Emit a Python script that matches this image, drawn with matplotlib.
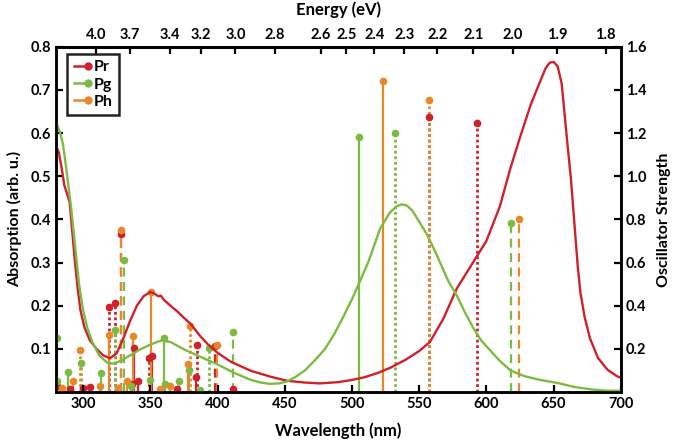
import matplotlib
matplotlib.use('Agg')
import matplotlib.pyplot as plt
from matplotlib.lines import Line2D
from matplotlib.legend_handler import HandlerBase

plt.rcParams['font.family'] = ['Lato', 'DejaVu Sans']
plt.rcParams['font.weight'] = 'bold'

RED = '#d0212a'
GREEN = '#7cbb43'
ORANGE = '#e9882b'

# absorption spectra (left axis)
red_wl = [280, 282, 284, 286, 288, 290, 292, 294, 296, 298, 301, 305, 310, 315, 320,
          325, 330, 335, 340, 345, 350, 353, 356, 358, 360, 365, 370, 375, 380, 387,
          393, 400, 410, 425, 440, 452, 465, 476, 490, 500, 509, 520, 529, 540, 550,
          558, 568, 578, 590, 600, 610, 618, 625, 633, 640, 644, 647, 650, 653, 656,
          658, 660, 663, 665, 668, 670, 673, 677, 683, 690, 697, 700]
red_abs = [0.57, 0.555, 0.52, 0.48, 0.46, 0.44, 0.37, 0.30, 0.24, 0.19, 0.15, 0.12, 0.10,
           0.085, 0.078, 0.09, 0.125, 0.165, 0.20, 0.222, 0.232, 0.228, 0.222, 0.223,
           0.214, 0.20, 0.187, 0.172, 0.158, 0.13, 0.11, 0.091, 0.07, 0.049, 0.035,
           0.026, 0.022, 0.02, 0.023, 0.028, 0.034, 0.045, 0.057, 0.075, 0.095, 0.116,
           0.17, 0.24, 0.30, 0.35, 0.43, 0.52, 0.59, 0.666, 0.72, 0.75, 0.763, 0.765,
           0.755, 0.715, 0.65, 0.585, 0.49, 0.41, 0.29, 0.23, 0.175, 0.125, 0.079,
           0.052, 0.037, 0.033]

green_wl = [280, 283, 285, 287, 289, 291, 293, 295, 297, 300, 303, 307, 312, 318, 322,
            328, 335, 342, 350, 356, 359, 361, 365, 375, 387, 400, 412, 424, 432, 439,
            446, 452, 458, 465, 472, 480, 487, 494, 500, 505, 512, 521, 528, 533, 537,
            541, 545, 550, 556, 562, 567, 572, 578, 584, 590, 596, 603, 610, 618, 628,
            640, 653, 665, 678, 690, 700]
green_abs = [0.625, 0.60, 0.575, 0.53, 0.48, 0.43, 0.37, 0.31, 0.25, 0.19, 0.15, 0.115,
             0.085, 0.068, 0.066, 0.072, 0.085, 0.098, 0.11, 0.117, 0.12, 0.118, 0.116,
             0.099, 0.082, 0.064, 0.045, 0.029, 0.022, 0.019, 0.02, 0.025, 0.035, 0.05,
             0.072, 0.10, 0.135, 0.177, 0.215, 0.25, 0.30, 0.379, 0.415, 0.43, 0.435,
             0.432, 0.42, 0.395, 0.364, 0.325, 0.29, 0.255, 0.224, 0.185, 0.15, 0.12,
             0.096, 0.072, 0.05, 0.037, 0.028, 0.021, 0.012, 0.006, 0.003, 0.003]

# oscillator strengths (right axis): wavelength, strength, line style
pr_wl = [319, 324, 328.5, 338, 349, 351.4, 384.7, 398.3, 557, 593,
         280.4, 290.3, 300.2, 305.2, 336.3, 341.2, 369.8, 384, 411.5]
pr_f = [0.392, 0.412, 0.731, 0.205, 0.158, 0.166, 0.22, 0.213, 1.276, 1.245,
        0.028, 0.015, 0.02, 0.025, 0.035, 0.05, 0.015, 0.07, 0.012]
pr_ls = [':', ':', '--', '-', ':', '-', ':', '--', ':', ':',
         '-', '-', '-', '-', '-', '-', '-', '-', '-']

pg_wl = [280.5, 288.5, 298.7, 313.6, 324, 330.5, 360, 378.5, 393.3, 411.5, 505, 532, 618,
         280.4, 326, 336, 349.9, 361.1, 371, 387.2]
pg_f = [0.25, 0.095, 0.135, 0.089, 0.289, 0.612, 0.251, 0.10, 0.202, 0.277, 1.184, 1.199, 0.783,
        0.05, 0.02, 0.03, 0.055, 0.035, 0.05, 0.01]
pg_ls = ['-', '-', ':', '-', ':', '--', '-', '-', ':', '--', '-', ':', '--',
         '-', '-', '-', '-', '-', '-', '-']

ph_wl = [292.8, 298, 312.7, 319.5, 328, 332.5, 337.2, 350.2, 357.4, 378, 379.7, 399.6,
         523, 557, 624.5, 326.3, 365, 284]
ph_f = [0.05, 0.197, 0.03, 0.266, 0.751, 0.05, 0.258, 0.462, 0.012, 0.128, 0.305, 0.22,
        1.441, 1.353, 0.801, 0.02, 0.03, 0.02]
ph_ls = ['-', ':', '-', '-', '--', '-', '-', '-', '-', '-', ':', '--',
         '-', ':', '--', '-', '-', '-']

xticks = [300, 350, 400, 450, 500, 550, 600, 650, 700]
ev_ticks = [4.0, 3.7, 3.4, 3.2, 3.0, 2.8, 2.6, 2.5, 2.4, 2.3, 2.2, 2.1, 2.0, 1.9, 1.8]
left_ticks = [0.1, 0.2, 0.3, 0.4, 0.5, 0.6, 0.7, 0.8]
right_ticks = [0.2, 0.4, 0.6, 0.8, 1.0, 1.2, 1.4, 1.6]

fig = plt.figure(figsize=(6.77, 4.46), dpi=100)
ax = fig.add_axes([0.083, 0.121, 0.834, 0.774])
ax2 = ax.twinx()

for wl, f, ls, c in [(pr_wl, pr_f, pr_ls, RED), (pg_wl, pg_f, pg_ls, GREEN), (ph_wl, ph_f, ph_ls, ORANGE)]:
    for x, h, s in zip(wl, f, ls):
        lw = 2.0 if s == ':' else 1.6
        dashes = (1, 1) if s == ':' else (4, 2.5)
        if s == '-':
            ax2.plot([x, x], [0, h], color=c, lw=lw, zorder=2)
        else:
            ax2.plot([x, x], [0, h], color=c, lw=lw, dashes=dashes, zorder=2)
        ax2.plot([x], [h], 'o', color=c, ms=4.5, zorder=3)

ax.set_zorder(ax2.get_zorder() + 1)
ax.patch.set_visible(False)
ax.plot(red_wl, red_abs, color=RED, lw=1.7)
ax.plot(green_wl, green_abs, color=GREEN, lw=1.7)

ax.set_xlim(280, 700)
ax.set_ylim(0, 0.8)
ax2.set_ylim(0, 1.6)
ax.set_xticks(xticks)
ax.set_yticks(left_ticks)
ax2.set_yticks(right_ticks)
ax.set_yticklabels(['%.1f' % t for t in left_ticks])
ax2.set_yticklabels(['%.1f' % t for t in right_ticks])

top = ax.secondary_xaxis('top', functions=(lambda x: 1239.84 / x, lambda e: 1239.84 / e))
top.set_xticks(ev_ticks)
top.set_xticklabels(['%.1f' % t for t in ev_ticks])

for a in (ax, ax2):
    for sp in a.spines.values():
        sp.set_linewidth(1.8)
ax.tick_params(direction='in', length=5, width=1.6, labelsize=10.5, top=False)
ax2.tick_params(direction='in', length=5, width=1.6, labelsize=10.5)
top.tick_params(direction='in', length=5, width=1.6, labelsize=10.5)
top.spines['top'].set_linewidth(1.8)

ax.set_xlabel('Wavelength (nm)', fontsize=12, fontweight='bold', labelpad=8)
ax.set_ylabel('Absorption (arb. u.)', fontsize=11.5, fontweight='bold', labelpad=6)
ax2.set_ylabel('Oscillator Strength', fontsize=11.5, fontweight='bold', labelpad=8)
top.set_xlabel('Energy (eV)', fontsize=12, fontweight='bold', labelpad=9)


class StemHandler(HandlerBase):
    def create_artists(self, legend, orig_handle, xdescent, ydescent, width, height, fontsize, trans):
        y = height / 2 - ydescent
        c = orig_handle.get_color()
        line = Line2D([-xdescent, width - xdescent], [y, y], color=c, lw=1.8, transform=trans)
        dot = Line2D([width - xdescent], [y], marker='o', color=c, ms=5, transform=trans)
        return [line, dot]


handles = [Line2D([], [], color=RED), Line2D([], [], color=GREEN), Line2D([], [], color=ORANGE)]
leg = ax.legend(handles, ['Pr', 'Pg', 'Ph'], loc='upper left', bbox_to_anchor=(0.02, 0.98),
                handler_map={Line2D: StemHandler()}, handlelength=0.9, handletextpad=0.35,
                labelspacing=0.2, borderpad=0.4, borderaxespad=0.0, fancybox=False,
                framealpha=1, prop={'weight': 'bold', 'size': 11.5})
leg.get_frame().set_edgecolor('#222222')
leg.get_frame().set_linewidth(1.8)

fig.savefig('out.png', dpi=100)
